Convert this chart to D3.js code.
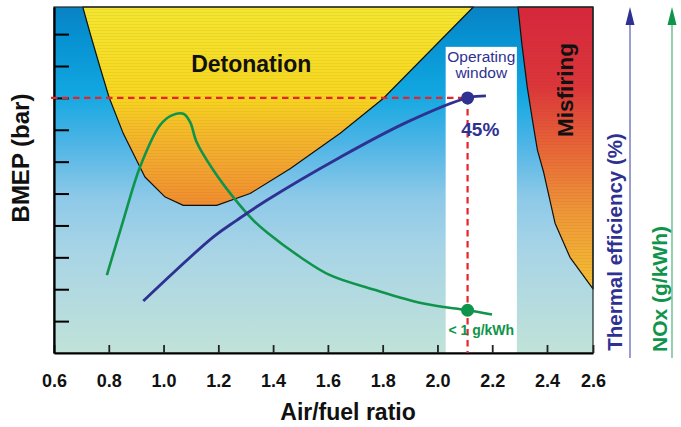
<!DOCTYPE html>
<html>
<head>
<meta charset="utf-8">
<script src="https://d3js.org/d3.v7.min.js"></script>
<style>
  body { margin: 0; background: #fff; }
  text { font-family: "Liberation Sans", Arial, sans-serif; }
</style>
</head>
<body>
<div id="chart"></div>
<script>
// Data
var xTickValues = [0.6, 0.8, 1.0, 1.2, 1.4, 1.6, 1.8, 2.0, 2.2, 2.4, 2.6];
var yTickValues = [1, 2, 3, 4, 5, 6, 7, 8, 9, 10];

// detonation zone boundary (air/fuel ratio, BMEP)
var detonationAfr = [0.705, 0.732, 0.768, 0.801, 0.853, 0.932, 1.006, 1.072, 1.194, 1.316, 1.462, 1.645, 1.802, 2.131];
var detonationBmep = [10.85, 10.02, 8.96, 8.02, 6.88, 5.52, 4.89, 4.63, 4.63, 5.0, 5.78, 6.89, 7.98, 10.85];

// misfiring zone boundary
var misfiringAfr = [2.294, 2.308, 2.328, 2.35, 2.365, 2.388, 2.435, 2.5, 2.6, 2.6];
var misfiringBmep = [10.85, 9.71, 8.33, 7.14, 6.36, 5.66, 4.07, 3.0, 2.01, 10.85];

// thermal efficiency curve
var efficiencyAfr = [0.926, 1.182, 1.267, 1.377, 1.645, 1.889, 2.11, 2.177];
var efficiencyLevel = [1.63, 3.64, 4.16, 4.79, 6.14, 7.24, 8.0, 8.06];

// NOx curve
var noxAfr = [0.793, 0.853, 0.914, 0.987, 1.03, 1.072, 1.097, 1.121, 1.182, 1.255, 1.328, 1.377, 1.499, 1.608, 1.767, 1.949, 2.11, 2.199];
var noxLevel = [2.44, 4.16, 5.83, 7.14, 7.45, 7.5, 7.24, 6.61, 5.73, 4.88, 4.16, 3.79, 3.01, 2.44, 1.99, 1.55, 1.34, 1.21];

// operating point and window
var operatingAfr = 2.11;
var operatingBmep = 8;
var operatingNox = 1.34;
var windowAfr = [2.03, 2.29];
var windowTop = 9.6;
var bmepMax = 10.85;

var svgWidth = 681;
var svgHeight = 427;

var navy = "#2e3192";
var green = "#0f944b";

var svg = d3.select("#chart")
  .append("svg")
  .attr("width", svgWidth)
  .attr("height", svgHeight);

// Step 1: scales (x axis is slightly compressed after 2.4 in the original)
var xScale = d3.scaleLinear()
  .domain([0.6, 2.4, 2.6])
  .range([54, 547, 593]);

var yScale = d3.scaleLinear()
  .domain([0, bmepMax])
  .range([353, 7]);

var plotLeft = xScale(0.6), plotRight = xScale(2.6);
var plotTop = yScale(bmepMax), plotBottom = yScale(0);

// Step 2: gradients
var defs = svg.append("defs");

function addGradient(id, y1, y2, stops) {
  var g = defs.append("linearGradient")
    .attr("id", id)
    .attr("gradientUnits", "userSpaceOnUse")
    .attr("x1", 0).attr("x2", 0)
    .attr("y1", y1).attr("y2", y2);
  stops.forEach(function(s) {
    g.append("stop").attr("offset", s[0]).attr("stop-color", s[1]);
  });
}

addGradient("bgGrad", plotTop, plotBottom, [
  [0, "#0a82c4"], [0.08, "#0690d0"], [0.25, "#12a7e1"], [0.4, "#50b5e6"],
  [0.55, "#8dc9e8"], [0.7, "#a7d4e6"], [0.85, "#b4dbdf"], [1, "#c0e2d8"]
]);
addGradient("detGrad", plotTop, yScale(4.6), [
  [0, "#f5e62f"], [0.45, "#f8d61f"], [0.6, "#f5bd28"], [0.8, "#f3a42f"], [1, "#f18b2e"]
]);
addGradient("misGrad", plotTop, yScale(2), [
  [0, "#d8263c"], [0.28, "#dd353a"], [0.5, "#e96536"], [0.72, "#f09538"], [1, "#f5c030"]
]);

var stripes = defs.append("pattern")
  .attr("id", "stripes")
  .attr("patternUnits", "userSpaceOnUse")
  .attr("width", 8).attr("height", 3);
stripes.append("rect")
  .attr("width", 8).attr("height", 1)
  .attr("fill", "#5a5a30")
  .attr("opacity", 0.08);

// Step 3: background and operating window
svg.append("rect")
  .attr("x", plotLeft).attr("y", plotTop)
  .attr("width", plotRight - plotLeft).attr("height", plotBottom - plotTop)
  .attr("fill", "url(#bgGrad)");

svg.append("rect")
  .attr("x", xScale(windowAfr[0]))
  .attr("y", yScale(windowTop))
  .attr("width", xScale(windowAfr[1]) - xScale(windowAfr[0]))
  .attr("height", yScale(0) - yScale(windowTop))
  .attr("fill", "#ffffff");

// Step 4: detonation and misfiring zones
var zoneLine = d3.line()
  .x(function(d) { return xScale(d[0]); })
  .y(function(d) { return yScale(d[1]); });

var detonationPts = detonationAfr.map(function(a, i) { return [a, detonationBmep[i]]; });
var misfiringPts = misfiringAfr.map(function(a, i) { return [a, misfiringBmep[i]]; });

[["detGrad", detonationPts], ["misGrad", misfiringPts]].forEach(function(z) {
  svg.append("path")
    .attr("d", zoneLine(z[1]) + "Z")
    .attr("fill", "url(#" + z[0] + ")");
  svg.append("path")
    .attr("d", zoneLine(z[1]) + "Z")
    .attr("fill", "url(#stripes)")
    .attr("stroke", "#111")
    .attr("stroke-width", 1.2)
    .attr("stroke-linejoin", "round");
});

// thin frame around the plot
svg.append("rect")
  .attr("x", plotLeft).attr("y", plotTop)
  .attr("width", plotRight - plotLeft).attr("height", plotBottom - plotTop)
  .attr("fill", "none")
  .attr("stroke", "#1b2a2a")
  .attr("stroke-width", 1.2);

// Step 5: axes
var xAxis = d3.axisBottom(xScale)
  .tickValues(xTickValues)
  .tickSize(-8)
  .tickSizeOuter(0)
  .tickPadding(21)
  .tickFormat(d3.format(".1f"));

var yAxis = d3.axisLeft(yScale)
  .tickValues(yTickValues)
  .tickSize(-15)
  .tickSizeOuter(0)
  .tickFormat("");

var xg = svg.append("g")
  .attr("transform", `translate(0, ${plotBottom})`)
  .call(xAxis);
xg.select(".domain").attr("stroke", "#000").attr("stroke-width", 2.2);
xg.selectAll(".tick line").attr("stroke", "#222").attr("stroke-width", 1.8);
xg.selectAll(".tick text")
  .style("font-family", "'Liberation Sans', Arial, sans-serif")
  .style("font-size", "18px")
  .style("font-weight", "bold")
  .attr("fill", "#111");

var yg = svg.append("g")
  .attr("transform", `translate(${plotLeft}, 0)`)
  .call(yAxis);
yg.select(".domain").attr("stroke", "#000").attr("stroke-width", 2.2);
yg.selectAll(".tick line").attr("stroke", "#000").attr("stroke-width", 2);

// Step 6: operating point dashed guides
svg.append("line")
  .attr("x1", plotLeft - 3).attr("x2", xScale(operatingAfr))
  .attr("y1", yScale(operatingBmep)).attr("y2", yScale(operatingBmep))
  .attr("stroke", "#e8232a").attr("stroke-width", 2.2)
  .attr("stroke-dasharray", "6.5,4.5");

svg.append("line")
  .attr("x1", xScale(operatingAfr)).attr("x2", xScale(operatingAfr))
  .attr("y1", yScale(operatingBmep)).attr("y2", yScale(0))
  .attr("stroke", "#e8232a").attr("stroke-width", 2.2)
  .attr("stroke-dasharray", "6.5,4.5");

// Step 7: curves
var curveLine = d3.line()
  .x(function(d) { return xScale(d[0]); })
  .y(function(d) { return yScale(d[1]); })
  .curve(d3.curveCatmullRom.alpha(0.5));

svg.append("path")
  .attr("d", curveLine(noxAfr.map(function(a, i) { return [a, noxLevel[i]]; })))
  .attr("fill", "none")
  .attr("stroke", green)
  .attr("stroke-width", 2.6)
  .attr("stroke-linejoin", "round");

svg.append("path")
  .attr("d", curveLine(efficiencyAfr.map(function(a, i) { return [a, efficiencyLevel[i]]; })))
  .attr("fill", "none")
  .attr("stroke", navy)
  .attr("stroke-width", 2.8)
  .attr("stroke-linejoin", "round");

svg.append("circle")
  .attr("cx", xScale(operatingAfr)).attr("cy", yScale(operatingBmep))
  .attr("r", 6.5).attr("fill", navy);

svg.append("circle")
  .attr("cx", xScale(operatingAfr)).attr("cy", yScale(operatingNox))
  .attr("r", 6.5).attr("fill", green);

// Step 8: labels inside the chart
var windowMid = (xScale(windowAfr[0]) + xScale(windowAfr[1])) / 2;

svg.append("text")
  .attr("x", xScale(1.32)).attr("y", 72)
  .attr("text-anchor", "middle")
  .style("font-size", "23px").style("font-weight", "bold")
  .attr("fill", "#111")
  .text("Detonation");

svg.append("text")
  .attr("transform", "translate(573, 90) rotate(-90)")
  .attr("text-anchor", "middle")
  .style("font-size", "22.5px").style("font-weight", "bold")
  .attr("fill", "#111")
  .text("Misfiring");

var windowLabel = svg.append("text")
  .attr("text-anchor", "middle")
  .style("font-size", "15.5px")
  .attr("fill", navy);
windowLabel.append("tspan")
  .attr("x", windowMid).attr("y", 61.5)
  .text("Operating");
windowLabel.append("tspan")
  .attr("x", windowMid).attr("y", 77.5)
  .text("window");

svg.append("text")
  .attr("x", windowMid - 1).attr("y", 136)
  .attr("text-anchor", "middle")
  .style("font-size", "19px").style("font-weight", "bold")
  .attr("fill", navy)
  .text("45%");

svg.append("text")
  .attr("x", windowMid).attr("y", 335)
  .attr("text-anchor", "middle")
  .style("font-size", "14px").style("font-weight", "bold")
  .attr("fill", green)
  .text("< 1 g/kWh");

// Step 9: axis titles
svg.append("text")
  .attr("transform", "translate(29, 158) rotate(-90)")
  .attr("text-anchor", "middle")
  .style("font-size", "24px").style("font-weight", "bold")
  .attr("fill", "#111")
  .text("BMEP (bar)");

svg.append("text")
  .attr("x", 348).attr("y", 420)
  .attr("text-anchor", "middle")
  .style("font-size", "23px").style("font-weight", "bold")
  .attr("fill", "#111")
  .text("Air/fuel ratio");

// right-hand arrows for the two secondary quantities
var arrows = [
  { x: plotRight + 37, shaft: "#7074ba", head: navy, label: "Thermal efficiency (%)", labelX: plotRight + 29, labelY: 242, size: "20.5px" },
  { x: plotRight + 79, shaft: "#66bd8b", head: green, label: "NOx (g/kWh)", labelX: plotRight + 74, labelY: 289, size: "21px" }
];

arrows.forEach(function(a) {
  svg.append("line")
    .attr("x1", a.x).attr("x2", a.x)
    .attr("y1", 358).attr("y2", 20)
    .attr("stroke", a.shaft).attr("stroke-width", 1.4);
  svg.append("path")
    .attr("d", `M${a.x},${plotTop} L${a.x + 4.5},${plotTop + 18} L${a.x - 4.5},${plotTop + 18} Z`)
    .attr("fill", a.head);
  svg.append("text")
    .attr("transform", `translate(${a.labelX}, ${a.labelY}) rotate(-90)`)
    .attr("text-anchor", "middle")
    .style("font-size", a.size).style("font-weight", "bold")
    .attr("fill", a.head)
    .text(a.label);
});
</script>
</body>
</html>
